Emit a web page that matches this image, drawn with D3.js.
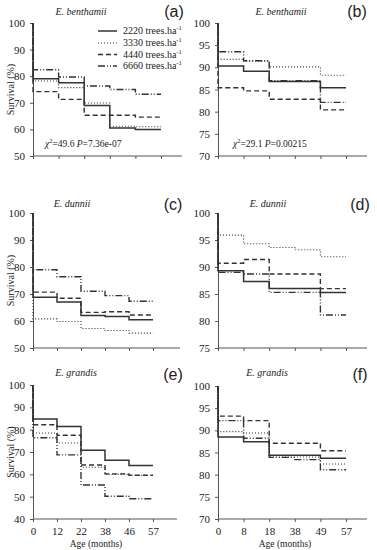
<!DOCTYPE html>
<html>
<head>
<meta charset="utf-8">
<script src="https://cdn.jsdelivr.net/npm/d3@7"></script>
<style>
  body { margin: 0; background: #fff; }
  text { font-family: "Liberation Serif", "Times New Roman", serif; fill: #222; }
</style>
</head>
<body>
<script>
// data
var panelLabels = ["(a)", "(b)", "(c)", "(d)", "(e)", "(f)"];
var species = ["E. benthamii", "E. benthamii", "E. dunnii", "E. dunnii", "E. grandis", "E. grandis"];
var ageLeft = ["0", "12", "22", "38", "46", "57"];
var ageRight = ["0", "8", "18", "38", "49", "57"];
var densities = ["2220", "3330", "4440", "6660"];
var yTicksA = [50, 60, 70, 80, 90, 100];
var yTicksB = [70, 75, 80, 85, 90, 95, 100];
var yTicksC = [50, 60, 70, 80, 90, 100];
var yTicksD = [75, 80, 85, 90, 95, 100];
var yTicksE = [40, 50, 60, 70, 80, 90, 100];
var yTicksF = [70, 75, 80, 85, 90, 95, 100];
var chiA = ["49.6", "7.36e-07"];
var chiB = ["29.1", "0.00215"];

// survival (%) per density: 2220, 3330, 4440, 6660
var survA = [[79.0, 77.5, 69.0, 60.5, 60.0],
             [78.2, 75.7, 69.9, 61.2, 61.0],
             [74.2, 71.3, 65.3, 65.3, 64.6],
             [82.4, 79.7, 76.3, 75.0, 73.2]];
var survB = [[90.3, 89.1, 86.8, 86.8, 85.4],
             [91.8, 91.4, 90.1, 90.1, 88.2],
             [85.4, 84.7, 82.8, 82.8, 80.4],
             [93.5, 91.5, 87.0, 87.0, 82.1]];
var survC = [[68.8, 67.0, 62.0, 61.7, 60.5],
             [60.8, 59.8, 57.2, 56.5, 55.5],
             [70.7, 68.4, 63.2, 63.4, 62.2],
             [79.0, 76.4, 71.0, 69.4, 67.3]];
var survD = [[89.3, 87.3, 86.0, 86.0, 85.3],
             [95.9, 94.3, 93.6, 93.2, 91.9],
             [90.7, 91.4, 88.7, 88.7, 86.0],
             [89.0, 88.7, 85.3, 85.3, 81.1]];
var survE = [[84.8, 81.4, 70.8, 66.3, 64.0],
             [78.5, 74.0, 63.2, 60.0, 59.6],
             [82.2, 77.5, 64.2, 60.2, 59.6],
             [76.4, 68.7, 55.2, 50.2, 49.1]];
var survF = [[88.5, 87.4, 84.4, 84.4, 83.7],
             [89.7, 89.4, 84.0, 84.0, 82.4],
             [93.2, 92.2, 87.1, 87.1, 85.4],
             [92.2, 88.2, 83.9, 83.4, 81.1]];

var dashes = [null, "1,2", "5,3", "7,2,1,2,1,2"];
var widths = [1.5, 1.1, 1.4, 1.4];

var panels = [
  { s: survA, ages: ageLeft, yt: yTicksA, x0: 33, step: 25.6, xEnd: 182, yTop: 23, yBot: 156, lab: [174, 17], tx: 81, ty: 15, showX: false, chi: chiA, chiPos: [45, 147], ylab: true },
  { s: survB, ages: ageRight, yt: yTicksB, x0: 218, step: 25.6, xEnd: 367, yTop: 23, yBot: 156, lab: [357, 17], tx: 281, ty: 15, showX: false, chi: chiB, chiPos: [233, 147], ylab: false },
  { s: survC, ages: ageLeft, yt: yTicksC, x0: 33, step: 24, xEnd: 180, yTop: 213, yBot: 348, lab: [173, 210], tx: 72, ty: 207, showX: false, ylab: true },
  { s: survD, ages: ageRight, yt: yTicksD, x0: 218, step: 25.6, xEnd: 367, yTop: 213, yBot: 348, lab: [360, 210], tx: 268, ty: 207, showX: false, ylab: false },
  { s: survE, ages: ageLeft, yt: yTicksE, x0: 33, step: 24, xEnd: 177, yTop: 385, yBot: 519, lab: [173, 380], tx: 76, ty: 376, showX: true, ylab: true },
  { s: survF, ages: ageRight, yt: yTicksF, x0: 218, step: 25.6, xEnd: 367, yTop: 386, yBot: 519, lab: [360, 380], tx: 267, ty: 376, showX: true, ylab: false }
];

var svg = d3.select("body").append("svg")
    .attr("width", 377)
    .attr("height", 550);

panels.forEach(function (p, i) {
  var g = svg.append("g");
  var x = d3.scaleLinear()
      .domain([0, 5])
      .range([p.x0, p.x0 + 5 * p.step]);
  var y = d3.scaleLinear()
      .domain([d3.min(p.yt), 100])
      .range([p.yBot, p.yTop]);

  // axes
  var xa = g.append("g")
      .attr("transform", "translate(0," + p.yBot + ")")
      .call(d3.axisBottom(x).tickValues([0, 1, 2, 3, 4, 5])
        .tickFormat(function (d) { return p.showX ? p.ages[d] : ""; })
        .tickSize(3).tickSizeOuter(0).tickPadding(5));
  xa.select(".domain").attr("d", "M" + p.x0 + ",0H" + p.xEnd);
  var ya = g.append("g")
      .attr("transform", "translate(" + p.x0 + ",0)")
      .call(d3.axisLeft(y).tickValues(p.yt).tickSize(3).tickSizeOuter(0).tickPadding(5));
  g.selectAll(".domain, .tick line").attr("stroke", "#555");
  g.selectAll(".tick text")
      .style("font-family", "'Liberation Serif', serif")
      .style("font-size", "11px")
      .attr("fill", "#222");

  // survival step curves
  var line = d3.line()
      .x(function (d) { return x(d[0]); })
      .y(function (d) { return y(d[1]); })
      .curve(d3.curveStepAfter);
  p.s.forEach(function (vals, k) {
    var pts = [[0, 100]];
    vals.forEach(function (v, j) { pts.push([j, v]); });
    pts.push([5, vals[vals.length - 1]]);
    g.append("path")
        .attr("d", line(pts))
        .attr("fill", "none")
        .attr("stroke", "#333")
        .attr("stroke-width", widths[k])
        .attr("stroke-dasharray", dashes[k]);
  });

  // title + panel letter
  g.append("text")
      .attr("x", p.tx).attr("y", p.ty)
      .attr("text-anchor", "middle")
      .style("font-style", "italic")
      .style("font-size", "10px")
      .text(species[i]);
  g.append("text")
      .attr("x", p.lab[0]).attr("y", p.lab[1])
      .attr("text-anchor", "middle")
      .style("font-family", "'Liberation Sans', Arial, sans-serif")
      .style("font-size", "16px")
      .text(panelLabels[i]);

  if (p.ylab) {
    g.append("text")
        .attr("transform", "translate(14," + ((p.yTop + p.yBot) / 2) + ") rotate(-90)")
        .attr("text-anchor", "middle")
        .style("font-size", "10px")
        .text("Survival (%)");
  }
  if (p.showX) {
    g.append("text")
        .attr("x", p.x0 + 2.5 * p.step + 3).attr("y", 547)
        .attr("text-anchor", "middle")
        .style("font-size", "9.5px")
        .text("Age (months)");
  }
  if (p.chi) {
    var t = g.append("text")
        .attr("x", p.chiPos[0]).attr("y", p.chiPos[1])
        .style("font-size", "9.5px");
    t.append("tspan").style("font-style", "italic").text("χ");
    t.append("tspan").attr("dy", -4).style("font-size", "6.5px").text("2");
    t.append("tspan").attr("dy", 4).text("=" + p.chi[0] + " ");
    t.append("tspan").style("font-style", "italic").text("P");
    t.append("tspan").text("=" + p.chi[1]);
  }
});

// legend in panel (a)
var legY = [34, 46, 57.5, 69];
var leg = svg.append("g");
densities.forEach(function (d, k) {
  leg.append("line")
      .attr("x1", 98).attr("x2", 117)
      .attr("y1", legY[k] - 3).attr("y2", legY[k] - 3)
      .attr("stroke", "#333")
      .attr("stroke-width", widths[k])
      .attr("stroke-dasharray", dashes[k]);
  var t = leg.append("text")
      .attr("x", 123).attr("y", legY[k])
      .style("font-size", "10px");
  t.append("tspan").text(d + " trees.ha");
  t.append("tspan").attr("dy", -4).style("font-size", "6.5px").text("-1");
});
</script>
</body>
</html>
